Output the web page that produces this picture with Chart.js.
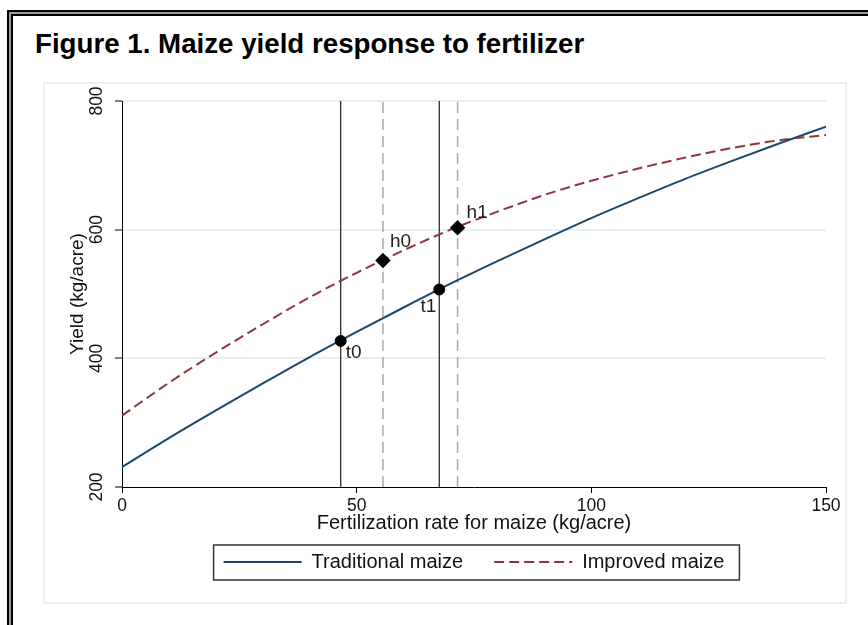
<!DOCTYPE html>
<html><head><meta charset="utf-8">
<script src="https://cdn.jsdelivr.net/npm/chart.js@4"></script>
<style>
html,body{margin:0;padding:0;background:#fff;}
body{width:868px;height:625px;overflow:hidden;position:relative;font-family:"Liberation Sans",Arial,sans-serif;}
#f1{position:absolute;left:7px;top:10px;width:900px;height:700px;border-left:2px solid #000;border-top:2px solid #000;}
#f2{position:absolute;left:0;top:0;right:0;bottom:0;border-left:2px solid #9a9a9a;border-top:2px solid #9a9a9a;}
#f3{position:absolute;left:0;top:0;right:0;bottom:0;border-left:2px solid #000;border-top:2px solid #000;background:#fff;}
#inner{position:absolute;left:43px;top:82px;width:804px;height:522px;box-sizing:border-box;border:2px solid #e9f0f3;}
#title{position:absolute;left:35px;top:30px;font-weight:bold;font-size:27.7px;line-height:27.7px;white-space:nowrap;color:#000;}
#wrap{position:absolute;left:0;top:0;width:868px;height:625px;}
canvas{position:absolute;left:0;top:0;}
</style></head>
<body>
<div id="f1"><div id="f2"><div id="f3"></div></div></div>
<div id="inner"></div>
<div id="title">Figure 1. Maize yield response to fertilizer</div>
<div id="wrap"><canvas id="c" width="868" height="625"></canvas></div>
<script>
// ---- data ----
const fertX = [0,10,20,30,40,50,60,70,80,90,100,110,120,130,140,150];
const traditionalYield = [231,276,319,361,402,441,479,516,551,585,618,649,679,707,734,760];
const improvedYield    = [311,362,409,453,495,533,568,600,628,654,676,695,712,727,739,747];
const tradRateX  = [46.6, 67.6];
const tradPointY = [427, 507];
const tradLabels = ['t0','t1'];
const impRateX   = [55.6, 71.5];
const impPointY  = [552, 603];
const impLabels  = ['h0','h1'];
const xTicks = [0,50,100,150];
const yTicks = [200,400,600,800];
const seriesNames = ['Traditional maize','Improved maize'];
const xTitle = 'Fertilization rate for maize (kg/acre)';
const yTitle = 'Yield (kg/acre)';

const FONT = '"Liberation Sans", Arial, sans-serif';
Chart.defaults.font.family = FONT;
Chart.defaults.color = '#111';

const pts = (xs, ys) => xs.map((v,i)=>({x:v, y:ys[i]}));
const vline = v => [{x:v, y:yTicks[0]}, {x:v, y:yTicks[yTicks.length-1]}];

const datasets = [
  {type:'line', label:seriesNames[0], data:pts(fertX, traditionalYield), borderColor:'#1a476f', backgroundColor:'#1a476f',
   borderWidth:2, pointRadius:0, cubicInterpolationMode:'monotone', fill:false, order:2},
  {type:'line', label:seriesNames[1], data:pts(fertX, improvedYield), borderColor:'#90353b', backgroundColor:'#90353b',
   borderWidth:2, borderDash:[10,5], pointRadius:0, cubicInterpolationMode:'monotone', fill:false, order:1},
];
tradRateX.forEach(v => datasets.push({type:'line', label:'t-rate', data:vline(v), borderColor:'#1e1e1e', borderWidth:1.2, pointRadius:0, order:5}));
impRateX.forEach(v => datasets.push({type:'line', label:'h-rate', data:vline(v), borderColor:'#a8a8a8', borderWidth:1.5, borderDash:[11,6], pointRadius:0, order:5}));
datasets.push({type:'scatter', label:'t-points', data:pts(tradRateX, tradPointY), pointStyle:'circle', pointRadius:5.5,
  backgroundColor:'#000', borderColor:'#000', borderWidth:1, order:0});
datasets.push({type:'scatter', label:'h-points', data:pts(impRateX, impPointY), pointStyle:'rectRot', pointRadius:7.5,
  backgroundColor:'#000', borderColor:'#000', borderWidth:0.5, order:0});

const pointLabelPlugin = {
  id:'pointLabels',
  afterDatasetsDraw(chart){
    const {ctx, scales:{x, y}} = chart;
    ctx.save();
    ctx.font = '19px ' + FONT;
    ctx.fillStyle = '#222';
    ctx.textBaseline = 'middle';
    const tPlace = [{dx:5, dy:12, align:'left'}, {dx:-3, dy:17, align:'right'}];
    const hPlace = [{dx:7, dy:-19, align:'left'}, {dx:9, dy:-15, align:'left'}];
    drawSet(tradRateX, tradPointY, tradLabels, tPlace);
    drawSet(impRateX, impPointY, impLabels, hPlace);
    function drawSet(xs, ys, labels, place){
      xs.forEach((v,i)=>{
        ctx.textAlign = place[i].align;
        ctx.fillText(labels[i], x.getPixelForValue(v)+place[i].dx, y.getPixelForValue(ys[i])+place[i].dy);
      });
    }
    ctx.restore();
  }
};

const legendFramePlugin = {
  id:'legendFrame',
  afterDraw(chart){
    const hb = chart.legend && chart.legend.legendHitBoxes;
    if(!hb || !hb.length) return;
    const ctx = chart.ctx;
    const first = hb[0], last = hb[hb.length-1];
    const l = first.left - 10, r = last.left + last.width + 15;
    const t = first.top - 7, b = first.top + first.height + 8;
    ctx.save();
    ctx.strokeStyle = '#333';
    ctx.lineWidth = 1.5;
    ctx.strokeRect(l, t, r-l, b-t);
    ctx.restore();
  }
};

const defaultGen = Chart.defaults.plugins.legend.labels.generateLabels;

new Chart(document.getElementById('c'), {
  data:{datasets},
  options:{
    responsive:false, animation:false, events:[],
    layout:{padding:{left:60, right:42, top:101, bottom:43}},
    scales:{
      x:{type:'linear', position:'bottom', min:xTicks[0], max:xTicks[xTicks.length-1],
        afterBuildTicks:s=>{ s.ticks = xTicks.map(v=>({value:v})); },
        grid:{drawOnChartArea:false, tickLength:6, tickColor:'#000', tickWidth:1},
        border:{color:'#000', width:1},
        ticks:{font:{size:17.5}, color:'#111', padding:3, maxRotation:0, autoSkip:false},
        title:{display:true, text:xTitle, font:{size:20}, color:'#111', padding:{top:0, bottom:-14}},
        afterFit:s=>{ s.height = 34; }
      },
      y:{type:'linear', position:'left', min:yTicks[0], max:yTicks[yTicks.length-1],
        afterBuildTicks:s=>{ s.ticks = yTicks.map(v=>({value:v})); },
        grid:{color:c=> (c.tick && c.tick.value===yTicks[0]) ? 'rgba(0,0,0,0)' : '#e8eff2', lineWidth:2,
              tickLength:7, tickColor:'#000', tickWidth:1},
        border:{color:'#000', width:1},
        ticks:{font:{size:17.5}, color:'#111', padding:3, minRotation:90, maxRotation:90, crossAlign:'center', autoSkip:false},
        title:{display:true, text:yTitle, font:{size:19}, color:'#111', padding:{top:6, bottom:0}},
        afterFit:s=>{ s.width = 62; }
      }
    },
    plugins:{
      tooltip:{enabled:false},
      title:{display:false},
      legend:{position:'bottom', fullSize:false,
        labels:{usePointStyle:true, pointStyle:'line', pointStyleWidth:78, padding:31, font:{size:20}, color:'#111',
          generateLabels:chart => defaultGen(chart).map(item => {
            const ds = chart.data.datasets[item.datasetIndex];
            return Object.assign(item, {lineDash: ds.borderDash || [], lineWidth: ds.borderWidth,
              strokeStyle: ds.borderColor, fillStyle: ds.borderColor});
          }),
          filter:item=>item.datasetIndex<2,
          sort:(a,b)=>a.datasetIndex-b.datasetIndex}
      }
    }
  },
  plugins:[pointLabelPlugin, legendFramePlugin]
});
</script>
</body></html>
